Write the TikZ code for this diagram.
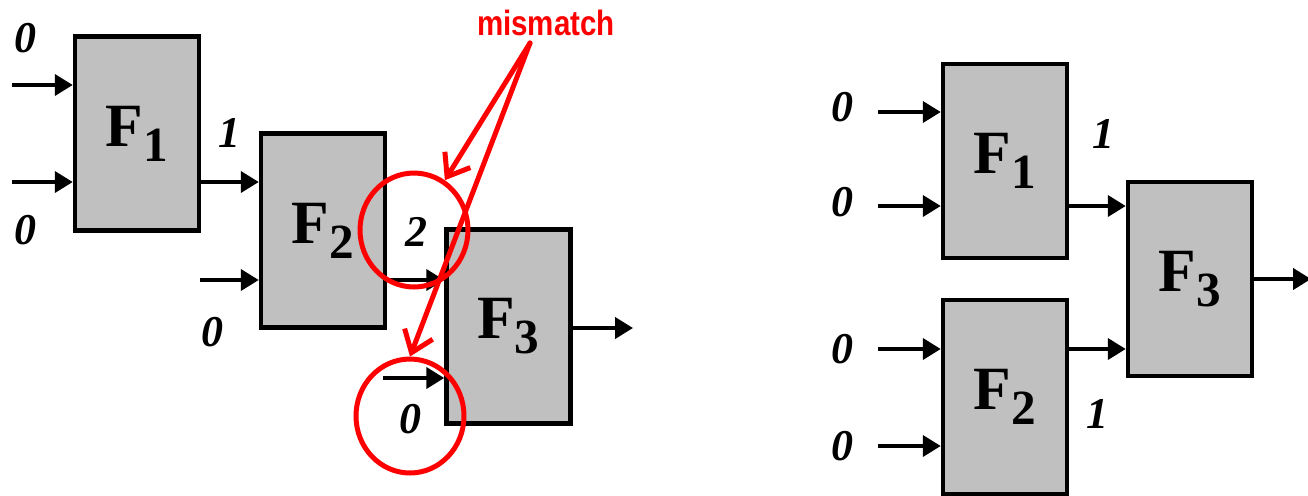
\documentclass[tikz,border=0pt]{standalone}
\usepackage{fontspec}
\setmainfont{Liberation Serif}
\newfontfamily\labelsans{Liberation Sans}
\usetikzlibrary{arrows.meta,positioning,shapes.geometric}

\newcommand{\blockname}[1]{{\fontsize{35}{35}\selectfont\bfseries F\raisebox{-0.3cm}{\fontsize{28}{28}\selectfont #1}}}

\begin{document}
\begin{tikzpicture}[x=0.02cm, y=-0.02cm,
    fbox/.style={draw, line width=0.09cm, fill={rgb,255:red,192;green,192;blue,192}, minimum width=2.48cm, minimum height=3.88cm, inner sep=0pt},
    arr/.style={-{Triangle[length=0.36cm, width=0.42cm]}, line width=0.08cm},
    val/.style={font=\fontsize{25}{25}\selectfont\bfseries\itshape},
    ring/.style={draw=red, line width=0.1cm, ellipse, minimum width=2.16cm, minimum height=2.28cm, inner sep=0pt},
    hint/.style={red, line width=0.1cm, line cap=round, -{Straight Barb[length=0.4cm, width=0.6cm]}}
]
\useasboundingbox (0,0) rectangle (1308,495);

% chain that fails
\node[fbox] (lf1) at (137,133.5) {\blockname{1}};
\node[fbox] (lf2) at (323,230.5) {\blockname{2}};
\node[fbox] (lf3) at (508.5,326.5) {\blockname{3}};

\coordinate (in1) at (12,85);
\coordinate (in2) at (12,182);
\coordinate (in3) at (200,280);
\coordinate (in4) at (383,378);
\coordinate (lout) at (633,328);

\draw[arr] (in1) -- (lf1.west |- in1);
\draw[arr] (in2) -- (lf1.west |- in2);
\draw[arr] (lf1.east |- in2) -- (lf2.west |- in2);
\draw[arr] (in3) -- (lf2.west |- in3);
\draw[arr] (lf2.east |- in3) -- (lf3.west |- in3);
\draw[arr] (in4) -- (lf3.west |- in4);
\draw[arr] (lf3.east |- lout) -- (lout);

\node[val] (l0a) at (25,38) {0};
\node[val] (l0b) at (25,230) {0};
\node[val] (l1) at (229,133) {1};
\node[val] (l0c) at (212,332) {0};
\node[val] (l2) at (416,232) {2};
\node[val] (l0d) at (410,419) {0};

\node[ring] (ring1) at (414,230) {};
\node[ring] (ring2) at (410,416) {};
\node[red, font=\labelsans\bfseries\fontsize{20}{20}\selectfont] (miss) at (546,23) {\scalebox{0.84}[1]{mismatch}};
\coordinate (tail) at (530,43);
\draw[hint] (tail) -- (ring1);
\draw[hint] (tail) -- (ring2.north);

% balanced tree
\node[fbox] (rf1) at (1005,161) {\blockname{1}};
\node[fbox] (rf2) at (1005,397) {\blockname{2}};
\node[fbox] (rf3) at (1190,279) {\blockname{3}};

\coordinate (rin1) at (878,112);
\coordinate (rin2) at (878,206);
\coordinate (rin3) at (878,349);
\coordinate (rin4) at (878,446);
\coordinate (rout) at (1311,279);

\draw[arr] (rin1) -- (rf1.west |- rin1);
\draw[arr] (rin2) -- (rf1.west |- rin2);
\draw[arr] (rin3) -- (rf2.west |- rin3);
\draw[arr] (rin4) -- (rf2.west |- rin4);
\draw[arr] (rf1.east |- rin2) -- (rf3.west |- rin2);
\draw[arr] (rf2.east |- rin3) -- (rf3.west |- rin3);
\draw[arr] (rf3.east) -- (rout);

\node[val] (r0a) at (842,107) {0};
\node[val] (r0b) at (842,202) {0};
\node[val] (r0c) at (842,349) {0};
\node[val] (r0d) at (842,446) {0};
\node[val] (r1a) at (1103,134) {1};
\node[val] (r1b) at (1097,414) {1};
\end{tikzpicture}
\end{document}
